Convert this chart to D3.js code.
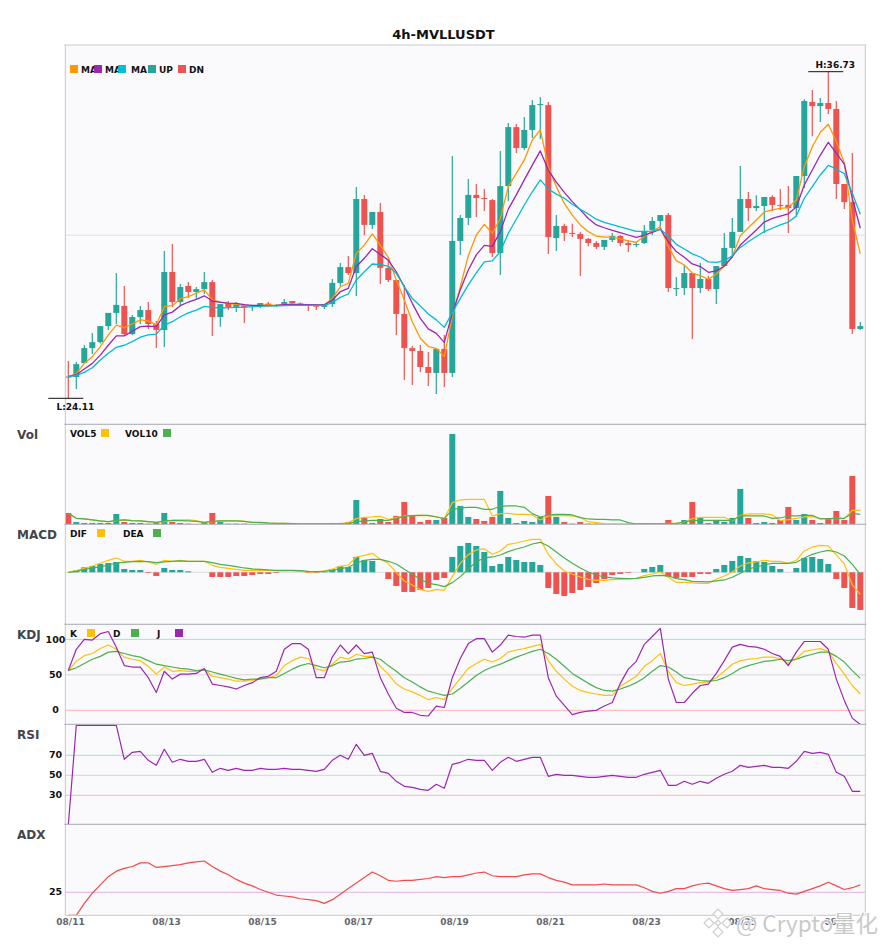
<html>
<head>
    <meta charset="utf-8">
    <title>4h-MVLLUSDT</title>
    <script src="https://d3js.org/d3.v7.min.js"></script>
    <style>
        body { margin: 0; background: #fff; }
        svg text { font-family: "DejaVu Sans", sans-serif; }
    </style>
</head>
<body>
    <svg id="chart" width="885" height="950"></svg>
    <script>
        const opens = [24.95,24.93,25.47,26.05,26.28,26.90,27.41,27.68,26.59,27.25,
            27.52,26.98,26.75,28.99,27.83,28.45,28.22,28.33,28.60,27.25,
            27.79,27.64,27.72,27.65,27.68,27.77,27.68,27.72,27.87,27.78,
            27.72,27.72,27.64,27.75,28.57,29.18,28.95,31.81,30.81,31.31,
            29.15,28.68,27.37,26.05,25.94,25.32,25.09,26.02,25.09,30.19,
            31.08,31.97,31.85,31.77,29.72,32.31,34.59,33.78,34.48,35.44,
            35.44,30.30,30.77,30.50,30.46,30.27,30.11,29.96,30.23,30.38,
            30.11,30.03,30.11,30.61,30.96,31.19,28.33,28.37,28.95,28.37,
            28.72,28.33,29.22,29.92,30.54,31.81,31.46,31.54,31.89,31.58,
            31.58,31.46,32.70,35.56,35.40,35.52,35.29,32.39,31.69,26.79];
        const closes = [24.93,25.43,26.05,26.28,26.90,27.41,27.72,26.59,27.25,27.52,
            26.98,26.75,28.99,27.83,28.41,28.22,28.33,28.60,27.25,27.75,
            27.64,27.75,27.64,27.68,27.79,27.68,27.71,27.83,27.77,27.72,
            27.68,27.65,27.75,28.57,29.18,28.95,31.81,30.81,31.31,29.15,
            28.68,27.37,26.05,25.94,25.32,25.09,26.02,25.09,30.19,31.08,
            31.97,31.85,31.81,29.72,32.31,34.59,33.78,34.48,35.44,35.48,
            30.34,30.77,30.50,30.46,30.27,30.11,29.96,30.23,30.38,30.11,
            30.03,30.07,30.57,30.96,31.19,28.37,28.37,28.95,28.37,28.72,
            28.33,29.22,29.92,30.54,31.81,31.46,31.54,31.89,31.58,31.54,
            31.46,32.70,35.60,35.40,35.52,35.29,32.39,31.69,26.79,26.90];
        const highs = [25.55,25.51,26.17,26.63,26.90,27.41,28.95,28.45,27.33,27.68,
            27.83,27.10,29.80,30.07,28.53,28.60,28.41,28.99,28.68,27.75,
            27.87,27.83,27.75,27.72,27.79,27.83,27.75,27.95,27.87,27.81,
            27.75,27.75,27.75,28.72,29.34,29.61,32.27,31.97,31.31,31.66,
            29.45,28.68,28.49,26.13,26.17,25.90,26.02,26.56,33.47,31.19,
            32.58,32.39,32.20,31.81,33.67,34.75,34.71,34.98,35.64,35.75,
            35.56,31.19,30.85,30.85,30.54,30.30,30.19,30.23,30.50,30.42,
            30.23,30.15,30.81,31.12,31.19,31.27,28.80,29.26,28.95,29.34,
            28.84,29.22,30.50,31.08,33.09,32.08,31.96,31.89,31.96,32.20,
            32.31,32.70,35.67,36.02,35.71,36.73,35.60,32.39,33.59,27.06];
        const lows = [24.11,24.47,25.46,25.82,26.23,26.75,26.98,26.54,26.56,26.98,
            26.79,26.05,26.09,27.64,27.68,27.99,27.91,28.14,26.52,26.87,
            27.52,27.44,27.02,27.48,27.60,27.65,27.65,27.68,27.72,27.68,
            27.48,27.52,27.56,27.64,28.45,28.87,28.06,30.42,30.65,28.53,
            28.60,26.56,24.82,24.62,25.13,24.59,24.28,24.55,24.93,29.65,
            30.81,31.12,31.35,29.57,28.87,31.73,33.59,33.70,34.17,34.13,
            29.69,29.80,30.19,30.34,28.84,29.99,29.88,29.84,30.15,29.99,
            29.76,29.96,30.07,30.42,30.61,28.22,28.06,28.10,26.40,28.18,
            28.26,27.75,29.18,29.53,30.54,30.96,31.35,30.50,31.35,31.39,
            30.50,31.15,32.24,34.24,34.79,35.10,31.81,31.42,26.59,26.75];

        const maFast = [24.95,25.06,25.46,25.72,26.11,26.56,26.94,26.84,26.98,27.14,
            27.10,26.95,27.65,27.69,27.96,28.04,28.17,28.30,27.91,27.84,
            27.78,27.74,27.70,27.68,27.70,27.72,27.70,27.74,27.75,
            27.74,27.73,27.72,27.72,27.97,28.42,28.55,29.71,30.03,30.46,30.03,
            29.56,28.68,27.91,27.07,26.43,26.11,26.04,25.72,27.28,28.42,
            29.62,30.42,30.83,30.49,31.06,32.29,32.80,33.32,34.09,34.48,
            33.06,32.29,31.64,31.19,30.81,30.55,
            30.38,30.34,30.34,30.27,30.19,30.14,30.37,30.57,30.74,29.97,
            29.43,29.26,28.95,28.85,28.71,28.91,29.22,29.58,30.39,30.70,
            31.00,31.31,31.39,31.45,31.48,31.77,33.06,33.83,34.39,34.70,
            34.03,33.21,31.00,29.69];
        const maMid = [24.95,25.02,25.24,25.46,25.78,26.16,26.52,26.52,26.70,26.88,
            26.90,26.88,27.33,27.44,27.69,27.83,27.93,28.07,27.87,27.82,
            27.79,27.78,27.73,27.70,27.70,27.69,27.70,27.73,27.73,
            27.73,27.73,27.72,27.72,27.91,28.23,28.36,29.20,29.52,29.89,29.67,
            29.45,29.00,28.42,27.78,27.20,26.79,26.62,26.27,27.39,28.30,
            29.07,29.65,30.02,29.98,30.55,31.42,31.97,32.55,33.12,33.67,
            32.93,32.46,32.07,31.71,31.39,31.06,
            30.81,30.70,30.60,30.51,30.42,30.33,30.41,30.52,30.65,30.16,
            29.78,29.56,29.30,29.20,28.98,29.03,29.22,29.58,30.03,30.32,
            30.61,30.92,31.06,31.15,31.24,31.50,32.35,32.93,33.51,34.00,
            33.58,33.16,31.84,30.68];
        const maSlow = [24.95,25.00,25.11,25.29,25.59,25.85,26.08,26.16,26.30,26.47,
            26.56,26.59,26.94,27.07,27.26,27.41,27.52,27.66,27.62,27.60,
            27.61,27.62,27.62,27.65,27.66,27.68,27.68,27.69,27.70,
            27.70,27.70,27.70,27.70,27.81,28.01,28.14,28.68,29.00,29.30,29.27,
            29.22,28.94,28.42,27.97,27.68,27.37,27.14,26.85,27.42,27.97,
            28.49,28.96,29.38,29.42,29.78,30.49,31.03,31.58,32.09,32.55,
            32.20,32.00,31.84,31.61,31.41,31.23,
            31.03,30.91,30.82,30.73,30.65,30.56,30.56,30.57,30.64,30.38,
            30.06,29.88,29.69,29.57,29.38,29.36,29.43,29.62,29.94,30.16,
            30.36,30.55,30.68,30.81,30.92,31.15,31.84,32.29,32.74,33.11,
            32.97,32.79,32.03,31.22];

        const volumes = [34,7,4,4,4,4,31,7,4,4,2,4,34,7,4,2,1,4,34,7,
            2,2,2,1,1,1,1,1,1,1,1,1,1,4,4,7,73,19,4,16,
            7,25,67,25,7,13,13,19,271,55,22,16,10,22,100,19,4,10,7,22,
            85,22,7,2,7,2,2,1,1,1,1,1,3,1,1,13,2,13,67,19,
            4,13,7,19,106,19,4,7,4,13,52,13,31,13,4,16,40,13,145,1];
        const vol5 = [33,18,16,13,10,7,11,13,11,10,8,6,8,13,13,13,11,5,8,10,
            10,10,9,6,4,3,3,3,2,1,1,1,1,1,2,5,17,21,22,24,
            15,20,25,26,27,26,23,17,65,73,75,75,75,25,32,33,30,30,28,13,
            25,26,26,25,21,7,5,2,1,1,1,1,1,1,1,3,3,7,17,21,
            21,21,21,10,27,31,31,31,28,11,14,18,22,23,17,17,18,17,42,42];
        const vol10 = [33,18,16,13,10,8,12,13,11,10,8,6,10,11,11,10,9,6,9,10,
            10,10,9,6,6,4,3,3,2,1,1,1,1,1,1,2,8,10,12,12,
            12,17,24,26,27,27,22,17,44,49,51,51,45,45,54,55,55,51,32,22,
            28,30,30,28,20,16,15,15,13,13,5,1,1,1,1,2,3,7,11,12,
            12,12,12,12,25,25,25,25,18,19,25,25,27,27,16,17,18,18,33,30];

        const macdHist = [0,6,15,19,25,28,31,10,7,7,-2,-11,13,7,7,3,0,0,-14,-14,
            -14,-11,-11,-8,-5,-5,-2,0,0,0,-2,-2,1,9,19,16,46,37,34,0,
            -20,-41,-59,-59,-53,-47,-23,-17,46,79,88,79,61,19,25,46,37,31,31,22,
            -47,-65,-71,-62,-53,-44,-32,-20,-8,-5,-2,0,10,16,22,-14,-17,-14,-14,-5,
            -5,10,22,34,49,43,34,31,19,10,0,13,43,46,40,25,-20,-47,-107,-113];
        const dif = [0,5,12,19,27,36,43,33,33,36,31,24,36,33,36,33,33,33,21,15,
            12,9,6,6,6,6,4,5,4,3,1,1,4,10,18,22,46,51,57,39,
            27,-1,-26,-38,-52,-57,-51,-54,-13,27,53,67,70,54,64,84,88,94,99,99,
            54,25,4,-6,-14,-21,-24,-24,-22,-21,-20,-18,-10,-5,1,-15,-30,-30,-32,-33,
            -33,-21,-11,1,19,28,31,36,33,33,27,36,64,76,81,79,52,25,-38,-66];
        const dea = [0,3,9,13,16,22,28,30,32,33,32,29,31,33,34,33,33,33,29,24,
            21,17,13,10,9,7,6,6,6,5,3,2,3,6,11,15,27,36,39,39,
            33,25,9,-6,-21,-33,-37,-43,-31,-13,10,32,43,46,52,62,70,76,85,90,
            79,61,43,27,13,1,-8,-14,-17,-18,-19,-18,-15,-11,-9,-11,-19,-22,-27,-28,
            -29,-26,-23,-15,-3,10,16,22,27,27,27,30,43,54,61,66,61,49,24,-6];

        const kValues = [56,69,77,80,87,92,86,75,72,70,62,51,61,55,56,55,55,58,48,46,
            44,41,41,42,46,46,49,63,70,75,73,58,56,65,75,72,79,76,76,62,
            51,37,30,26,21,15,18,15,31,45,59,66,72,68,73,82,85,87,90,93,
            70,55,44,34,28,25,23,21,21,34,41,48,62,70,80,55,39,35,37,39,
            40,46,55,65,70,72,73,75,75,73,66,73,83,85,87,83,66,51,35,23];
        const dValues = [56,60,66,72,76,82,83,80,77,75,70,65,63,61,59,58,56,57,54,51,
            48,45,43,44,44,46,46,52,58,63,66,63,60,63,68,69,72,73,75,72,
            63,55,46,40,33,27,24,21,23,31,40,49,56,61,65,70,75,79,83,86,
            80,72,62,52,45,38,32,28,27,30,34,39,46,55,63,61,54,46,44,42,
            41,42,46,52,59,63,66,69,70,72,70,72,76,79,82,82,76,68,56,45];
        const jValues = [56,86,100,99,108,111,89,63,61,61,46,25,55,44,51,51,52,59,37,35,
            33,30,35,39,46,48,55,86,94,94,86,46,46,75,92,80,92,80,82,46,
            23,3,-3,-3,-7,-8,6,4,46,73,94,101,101,82,92,106,104,103,106,106,
            46,20,7,-6,-3,-1,0,6,11,38,58,69,93,104,115.5,44,11,11,24,35,
            37,52,70,89,93,90,89,86,80,76,63,82,97,97,97,86,44,14,-11,-20];

        const rsiValues = [0,100,100,100,100,100,100,66,73,74,65,60,76,63,66,64,64,66,53,57,
            55,57,55,55,57,56,56,57,56,56,55,54,56,65,70,66,81,70,72,54,
            52,44,39,38,36,35,41,37,61,63,66,65,65,55,63,68,64,66,68,68,
            49,51,50,50,49,48,48,49,50,49,48,48,51,53,55,40,40,44,41,44,
            42,47,51,54,60,58,59,60,58,58,57,64,74,72,73,71,53,49,34,34];
        const adxValues = [0,0,13,24,33,42,48,51,53,57,57,52,53,54,55,57,58,59,53,48,
            44,39,35,32,28,25,22,21,20,18,17,16,13,17,23,29,35,41,47,43,
            38,37,38,38,39,40,42,41,42,42,44,46,47,43,42,42,42,44,45,45,
            41,38,36,33,33,33,33,34,33,33,33,33,30,26,24,26,29,29,32,34,
            35,32,29,27,28,29,32,29,28,27,24,23,26,29,32,36,32,28,30,33];

        const dateLabels = ['08/11','08/13','08/15','08/17','08/19','08/21','08/23','08/25','08/27'];

        const upColor = '#26a69a', downColor = '#ef5350';
        const yellow = '#ffc107', green = '#4caf50', purple = '#9c27b0';

        const svg = d3.select('svg#chart');
        const left = 65.3, right = 865.3;

        const xScale = d3.scaleBand()
            .domain(d3.range(opens.length))
            .range([left - 1, right - 1])
            .paddingInner(0.25)
            .paddingOuter(0.125);
        const xMid = i => xScale(i) + xScale.bandwidth() / 2;

        svg.append('text')
           .attr('x', 443.5).attr('y', 39)
           .attr('text-anchor', 'middle')
           .attr('font-size', '13px').attr('font-weight', 'bold')
           .attr('fill', '#111')
           .text('4h-MVLLUSDT');

        // one framed panel with clip, returns the group everything goes in
        function makePanel(name, top, bottom, label) {
            svg.append('rect')
               .attr('x', left).attr('y', top)
               .attr('width', right - left).attr('height', bottom - top)
               .attr('fill', '#fafafd');
            svg.append('clipPath').attr('id', 'clip-' + name)
               .append('rect')
               .attr('x', left).attr('y', top)
               .attr('width', right - left).attr('height', bottom - top);
            const g = svg.append('g').attr('clip-path', `url(#clip-${name})`);
            if (label) {
                svg.append('text')
                   .attr('x', 17).attr('y', top + 15)
                   .attr('font-size', '12px').attr('font-weight', 'bold')
                   .attr('fill', '#44444c')
                   .text(label);
            }
            return g;
        }

        function frame(top, bottom, topColor) {
            svg.append('line').attr('x1', left).attr('x2', left).attr('y1', top).attr('y2', bottom)
               .attr('stroke', '#c6c6ce').attr('stroke-width', 1);
            svg.append('line').attr('x1', right).attr('x2', right).attr('y1', top).attr('y2', bottom)
               .attr('stroke', '#c6c6ce').attr('stroke-width', 1);
            svg.append('line').attr('x1', left - 1).attr('x2', right + 1).attr('y1', top).attr('y2', top)
               .attr('stroke', topColor).attr('stroke-width', 1);
        }

        function drawLine(g, values, yScale, color, width) {
            const line = d3.line().x((d, i) => xMid(i)).y(d => yScale(d));
            g.append('path')
             .attr('d', line(values))
             .attr('fill', 'none')
             .attr('stroke', color)
             .attr('stroke-width', width || 1.2)
             .attr('stroke-linejoin', 'round');
        }

        function gridLine(g, yScale, value, color) {
            g.append('line')
             .attr('x1', left).attr('x2', right)
             .attr('y1', yScale(value)).attr('y2', yScale(value))
             .attr('stroke', color).attr('stroke-width', 1);
        }

        function legend(top, items) {
            items.forEach(item => {
                svg.append('text')
                   .attr('x', item.textX).attr('y', top + 7.5)
                   .attr('font-size', '9px').attr('font-weight', 'bold')
                   .attr('fill', '#111')
                   .text(item.text);
            });
            items.forEach(item => {
                svg.append('rect')
                   .attr('x', item.boxX).attr('y', top)
                   .attr('width', 8).attr('height', 8)
                   .attr('fill', item.color);
            });
        }

        function yTicks(yScale, values) {
            const axis = svg.append('g')
                .attr('transform', 'translate(55.5, 0)')
                .call(d3.axisLeft(yScale).tickValues(values).tickSize(0).tickPadding(0));
            axis.select('.domain').remove();
            axis.selectAll('text')
                .attr('text-anchor', 'middle')
                .attr('dy', '0.28em')
                .attr('font-size', '9.5px')
                .attr('font-weight', 'bold')
                .attr('font-family', '"DejaVu Sans"')
                .attr('fill', '#111');
        }

        // ---- price panel
        const yPrice = d3.scaleLinear().domain([24.11, 36.73]).range([398.3, 71.7]);
        const mainArea = makePanel('main', 45, 424.3);
        gridLine(mainArea, yPrice, 30.41, '#dfdfe4');

        opens.forEach((o, i) => {
            const c = closes[i];
            const color = c >= o ? upColor : downColor;
            mainArea.append('line')
                .attr('x1', xMid(i)).attr('x2', xMid(i))
                .attr('y1', yPrice(highs[i])).attr('y2', yPrice(lows[i]))
                .attr('stroke', color).attr('stroke-width', 1.2);
            mainArea.append('rect')
                .attr('x', xScale(i))
                .attr('y', yPrice(Math.max(o, c)))
                .attr('width', xScale.bandwidth())
                .attr('height', Math.max(1, Math.abs(yPrice(o) - yPrice(c))))
                .attr('fill', color);
        });

        drawLine(mainArea, maFast, yPrice, '#ff9800', 1.3);
        drawLine(mainArea, maMid, yPrice, purple, 1.3);
        drawLine(mainArea, maSlow, yPrice, '#00bcd4', 1.3);

        frame(45, 424.3, '#c6c6ce');
        legend(65, [
            { text: 'MA', textX: 81, boxX: 70, color: '#ff9800' },
            { text: 'MA', textX: 105, boxX: 94, color: purple },
            { text: 'MA', textX: 131, boxX: 118, color: '#00bcd4' },
            { text: 'UP', textX: 159, boxX: 148, color: upColor },
            { text: 'DN', textX: 189, boxX: 178, color: downColor }
        ]);

        // high / low markers
        const highIndex = d3.maxIndex(highs), lowIndex = d3.minIndex(lows);
        [[highIndex, highs[highIndex], 'H:', -6.7], [lowIndex, lows[lowIndex], 'L:', 8.7]].forEach(m => {
            const px = xMid(m[0]), py = yPrice(m[1]);
            svg.append('line')
               .attr('x1', px - 20).attr('x2', px + 15)
               .attr('y1', py).attr('y2', py)
               .attr('stroke', '#111').attr('stroke-width', 1);
            svg.append('text')
               .attr('x', px + 7).attr('y', py + m[3] + 3.2)
               .attr('text-anchor', 'middle')
               .attr('font-size', '9px').attr('font-weight', 'bold')
               .attr('fill', '#111')
               .text(m[2] + m[1].toFixed(2));
        });

        // ---- volume
        const yVol = d3.scaleLinear().domain([0, 300]).range([524.3, 424.3]);
        const volArea = makePanel('vol', 424.3, 524.3, 'Vol');
        volumes.forEach((v, i) => {
            volArea.append('rect')
                .attr('x', xScale(i)).attr('y', yVol(v))
                .attr('width', xScale.bandwidth()).attr('height', yVol(0) - yVol(v))
                .attr('fill', closes[i] >= opens[i] ? upColor : downColor);
        });
        drawLine(volArea, vol5, yVol, yellow);
        drawLine(volArea, vol10, yVol, green);
        frame(424.3, 524.3, '#a9a9b1');
        legend(429, [
            { text: 'VOL5', textX: 70, boxX: 101, color: yellow },
            { text: 'VOL10', textX: 125, boxX: 163, color: green }
        ]);

        // ---- macd
        const yMacd = d3.scaleLinear().domain([-156, 144]).range([624.3, 524.3]);
        const macdArea = makePanel('macd', 524.3, 624.3, 'MACD');
        gridLine(macdArea, yMacd, 0, '#dcdce0');
        macdHist.forEach((v, i) => {
            macdArea.append('rect')
                .attr('x', xScale(i)).attr('y', yMacd(Math.max(v, 0)))
                .attr('width', xScale.bandwidth()).attr('height', Math.abs(yMacd(v) - yMacd(0)))
                .attr('fill', v >= 0 ? upColor : downColor);
        });
        drawLine(macdArea, dif, yMacd, yellow);
        drawLine(macdArea, dea, yMacd, green);
        frame(524.3, 624.3, '#a9a9b1');
        legend(529, [
            { text: 'DIF', textX: 70, boxX: 97, color: yellow },
            { text: 'DEA', textX: 123, boxX: 153, color: green }
        ]);

        // ---- kdj
        const yKdj = d3.scaleLinear().domain([-19.7, 121.2]).range([724.3, 624.3]);
        const kdjArea = makePanel('kdj', 624.3, 724.3, 'KDJ');
        gridLine(kdjArea, yKdj, 100, '#a5dcd8');
        gridLine(kdjArea, yKdj, 50, '#d4d4d8');
        gridLine(kdjArea, yKdj, 0, '#ffb4b4');
        drawLine(kdjArea, kValues, yKdj, yellow);
        drawLine(kdjArea, dValues, yKdj, green);
        drawLine(kdjArea, jValues, yKdj, purple);
        frame(624.3, 724.3, '#a9a9b1');
        yTicks(yKdj, [0, 50, 100]);
        legend(629, [
            { text: 'K', textX: 70, boxX: 87, color: yellow },
            { text: 'D', textX: 113, boxX: 131, color: green },
            { text: 'J', textX: 157, boxX: 175, color: purple }
        ]);

        // ---- rsi
        const yRsi = d3.scaleLinear().domain([0, 100]).range([825.3, 725.3]);
        const rsiArea = makePanel('rsi', 724.3, 824.3, 'RSI');
        gridLine(rsiArea, yRsi, 70, '#a5dcd8');
        gridLine(rsiArea, yRsi, 50, '#d4d4d8');
        gridLine(rsiArea, yRsi, 30, '#ffb4b4');
        drawLine(rsiArea, rsiValues, yRsi, purple);
        frame(724.3, 824.3, '#a9a9b1');
        yTicks(yRsi, [30, 50, 70]);

        // ---- adx
        const yAdx = d3.scaleLinear().domain([0, 98.9]).range([915.3, 824.3]);
        const adxArea = makePanel('adx', 824.3, 915.3, 'ADX');
        gridLine(adxArea, yAdx, 25, '#e0b0e6');
        drawLine(adxArea, adxValues, yAdx, '#f44a4a');
        frame(824.3, 915.3, '#a9a9b1');
        svg.append('line').attr('x1', left).attr('x2', right).attr('y1', 915.3).attr('y2', 915.3)
           .attr('stroke', '#c6c6ce').attr('stroke-width', 1);
        yTicks(yAdx, [25]);

        // ---- dates
        const xDates = d3.scalePoint()
            .domain(dateLabels)
            .range([xMid(0) + 1.7, xMid(96) + 1.7]);
        const dateAxis = svg.append('g')
            .attr('transform', 'translate(0, 915.3)')
            .call(d3.axisBottom(xDates).tickSize(0).tickPadding(3));
        dateAxis.select('.domain').remove();
        dateAxis.selectAll('text')
            .attr('font-size', '9px').attr('font-weight', 'bold')
            .attr('font-family', '"DejaVu Sans"')
            .attr('fill', '#66666c');

        // ---- watermark over the corner
        const mark = svg.append('g').attr('opacity', 0.9);
        [[718, 914, 7], [709, 923, 7], [727, 923, 7], [718, 932, 7], [718, 923, 4]].forEach(d => {
            mark.append('rect')
                .attr('x', d[0] - d[2] / 2).attr('y', d[1] - d[2] / 2)
                .attr('width', d[2]).attr('height', d[2])
                .attr('transform', `rotate(45 ${d[0]} ${d[1]})`)
                .attr('fill', '#fff').attr('stroke', '#c9c9c9').attr('stroke-width', 1.2);
        });
        mark.append('text')
            .attr('x', 736).attr('y', 932)
            .attr('font-size', '22.5px')
            .attr('fill', '#c4c4c4')
            .attr('stroke', '#fff').attr('stroke-width', 2).attr('paint-order', 'stroke')
            .style('font-family', '"Noto Sans CJK SC", "DejaVu Sans"')
            .text('@ Crypto量化');
    </script>
</body>
</html>
